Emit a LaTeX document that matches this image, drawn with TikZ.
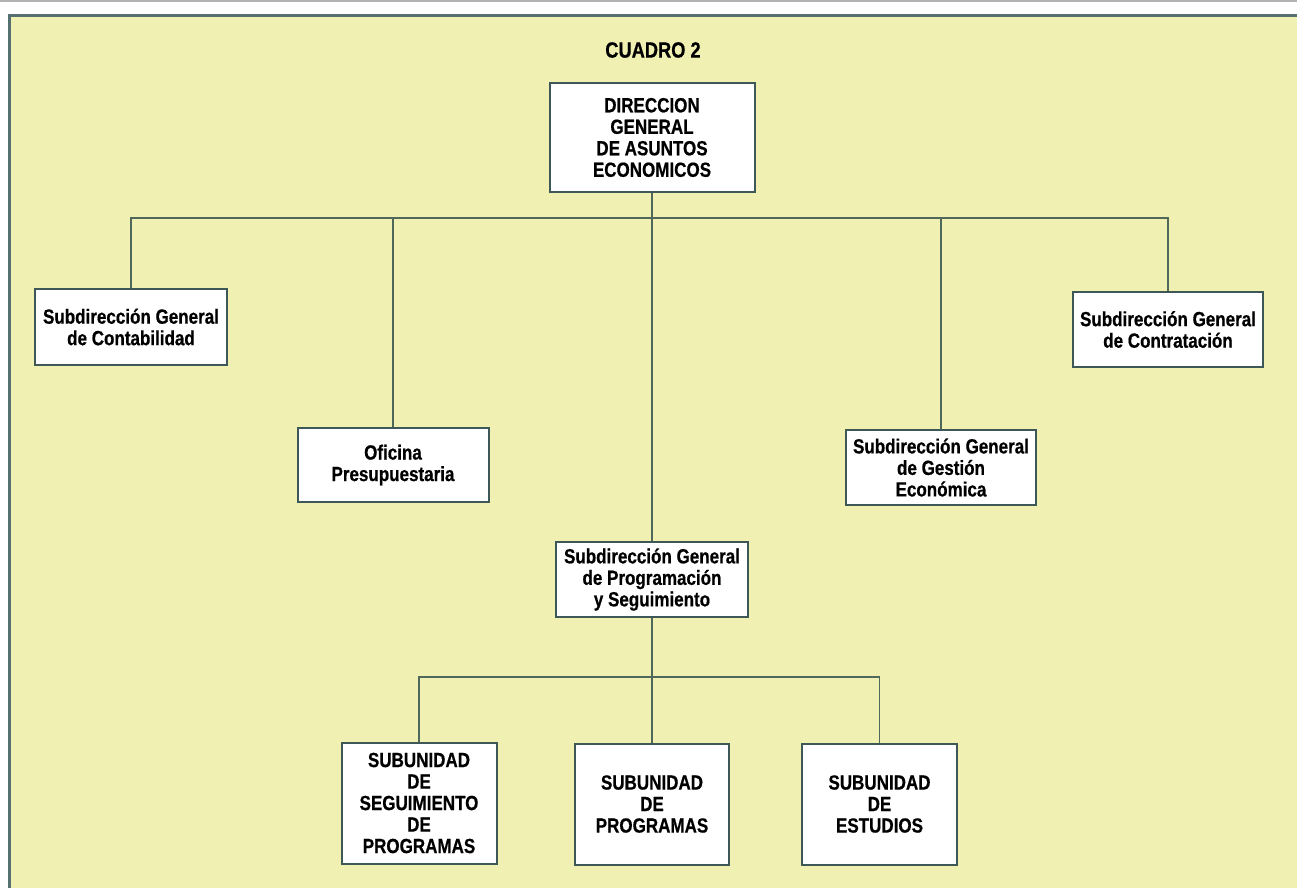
\documentclass[tikz,border=0pt]{standalone}
\usepackage{fontspec}
\setmainfont{Liberation Sans}[FakeStretch=0.83, BoldFeatures={FakeBold=0.6}]
\usepackage{tikz}
\usetikzlibrary{positioning}
\definecolor{panelcolor}{RGB}{239, 240, 178}
\definecolor{panelborder}{RGB}{84, 112, 112}
\definecolor{boxborder}{RGB}{62, 88, 88}
\definecolor{linkcolor}{RGB}{80, 104, 90}
\tikzstyle{unit} = [rectangle, inner sep=0pt, align=center, draw=boxborder, line width=2pt,
                    fill=white, font=\fontsize{20.5}{21.5}\selectfont\bfseries]
\tikzstyle{link} = [draw=linkcolor, line width=1.8pt]

\begin{document}
\begin{tikzpicture}[x=1pt, y=-1pt]
    % page and panel
    \useasboundingbox (0,0) rectangle (1297,888);
    \fill[white] (0,0) rectangle (1297,888);
    \draw[gray!60, line width=1.5pt] (0,1) -- (1297,1);
    \fill[panelcolor] (9,15) rectangle (1297,888);
    \draw[panelborder, line width=2.5pt] (9.5,888) -- (9.5,15.5) -- (1297,15.5);

    \node[font=\fontsize{22}{24}\selectfont\bfseries] (title) at (653,50) {CUADRO 2};

    % top
    \node[unit, minimum width=205pt, minimum height=109pt] (dgae) at (652,137.5)
        {DIRECCION\\ GENERAL\\ DE ASUNTOS\\ ECONOMICOS};

    % second level
    \node[unit, minimum width=192pt, minimum height=76pt] (conta) at (131,327)
        {Subdirección General\\ de Contabilidad};
    \node[unit, minimum width=191pt, minimum height=74pt] (ofi) at (393,465)
        {Oficina\\ Presupuestaria};
    \node[unit, minimum width=192pt, minimum height=75pt] (prog) at (652,579.5)
        {Subdirección General\\ de Programación\\ y Seguimiento};
    \node[unit, minimum width=190pt, minimum height=75pt] (gest) at (941,467.5)
        {Subdirección General\\ de Gestión\\ Económica};
    \node[unit, minimum width=190pt, minimum height=75pt] (contra) at (1168,329.5)
        {Subdirección General\\ de Contratación};

    % subunidades
    \node[unit, minimum width=155pt, minimum height=121pt] (seg) at (419,803)
        {SUBUNIDAD\\ DE\\ SEGUIMIENTO\\ DE\\ PROGRAMAS};
    \node[unit, minimum width=154pt, minimum height=121pt] (progr) at (652,804)
        {SUBUNIDAD\\ DE\\ PROGRAMAS};
    \node[unit, minimum width=155pt, minimum height=121pt] (est) at (879.5,804)
        {SUBUNIDAD\\ DE\\ ESTUDIOS};

    \coordinate (bus) at (652,218);
    \coordinate (subbus) at (652,677);

    % connectors
    \draw[link] (dgae.south) -- (prog.north);
    \draw[link] (conta.north) |- (bus) -| (contra.north);
    \draw[link] (ofi.north) -- (ofi.north |- bus);
    \draw[link] (gest.north) -- (gest.north |- bus);
    \draw[link] (prog.south) -- (progr.north);
    \draw[link] (seg.north) |- (subbus) -| (est.north);
\end{tikzpicture}
\end{document}
